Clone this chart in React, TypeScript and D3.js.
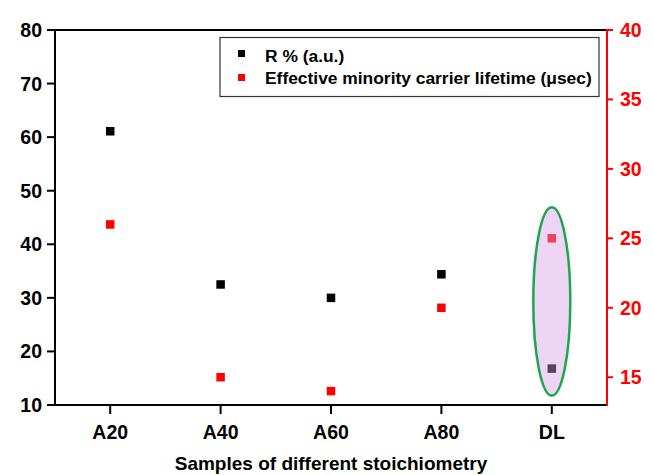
import React from "react";
import * as d3 from "d3";

const categories = ["A20", "A40", "A60", "A80", "DL"];
const reflectance = [61.1, 32.5, 30.0, 34.4, 16.8];
const lifetime = [26.0, 15.0, 14.0, 20.0, 25.0];
const leftTicks = [10, 20, 30, 40, 50, 60, 70, 80];
const rightTicks = [15, 20, 25, 30, 35, 40];
const seriesNames = ["R % (a.u.)", "Effective minority carrier lifetime (\u03bcsec)"];
const xTitle = "Samples of different stoichiometry";
const highlightCategory = "DL";

const W = 653;
const H = 475;
const M = { left: 55, right: 607, top: 30, bottom: 405 };
const FONT = "'Liberation Sans', Arial, sans-serif";
const RED = "#ff0000";

export default function App() {
  const x = d3.scaleLinear().domain([0.5, 5.5]).range([M.left, M.right]);
  const yL = d3.scaleLinear().domain([10, 80]).range([M.bottom, M.top]);
  const yR = d3.scaleLinear().domain([13, 40]).range([M.bottom, M.top]);
  const xi = (i: number) => x(i + 1);
  const ms = 8.5;
  const hi = categories.indexOf(highlightCategory);
  const ecx = xi(hi);
  const eTop = yR(lifetime[hi]) - 31;
  const eBot = yL(reflectance[hi]) + 27;

  return (
    <svg width={W} height={H} style={{ position: "absolute", left: 0, top: 0, background: "#fff" }} fontFamily={FONT} fontWeight="bold">
      <rect x={0} y={0} width={W} height={H} fill="#fff" />
      {/* points */}
      {reflectance.map((v, i) => (
        <rect key={"b" + i} x={xi(i) - ms / 2} y={yL(v) - ms / 2} width={ms} height={ms} fill="#000" />
      ))}
      {lifetime.map((v, i) => (
        <rect key={"r" + i} x={xi(i) - ms / 2} y={yR(v) - ms / 2} width={ms} height={ms} fill={RED} />
      ))}
      {/* highlight ellipse */}
      <ellipse cx={ecx} cy={(eTop + eBot) / 2} rx={18.5} ry={(eBot - eTop) / 2} fill="rgb(216,154,231)" fillOpacity={0.42} stroke="#1ea64e" strokeWidth={2.5} />
      {/* frame */}
      <line x1={M.left} x2={M.right} y1={M.top} y2={M.top} stroke="#000" strokeWidth={2} />
      <line x1={M.left} x2={M.right} y1={M.bottom} y2={M.bottom} stroke="#000" strokeWidth={2} />
      <line x1={M.left} x2={M.left} y1={M.top - 1} y2={M.bottom + 1} stroke="#000" strokeWidth={2} />
      <line x1={M.right} x2={M.right} y1={M.top - 1} y2={M.bottom + 1} stroke={RED} strokeWidth={2} />
      {/* left axis */}
      {leftTicks.map((t) => (
        <g key={"lt" + t}>
          <line x1={M.left - 8} x2={M.left} y1={yL(t)} y2={yL(t)} stroke="#000" strokeWidth={2} />
          <text x={42} y={yL(t)} dy="0.36em" textAnchor="end" fontSize={19.5} fill="#000">{t}</text>
        </g>
      ))}
      {/* right axis */}
      {rightTicks.map((t) => (
        <g key={"rt" + t}>
          <line x1={M.right} x2={M.right + 6} y1={yR(t)} y2={yR(t)} stroke={RED} strokeWidth={2} />
          <text x={620} y={yR(t)} dy="0.36em" textAnchor="start" fontSize={19.5} fill={RED}>{t}</text>
        </g>
      ))}
      {/* x axis */}
      {categories.map((c, i) => (
        <g key={"xt" + c}>
          <line x1={xi(i)} x2={xi(i)} y1={M.bottom} y2={M.bottom + 9} stroke="#000" strokeWidth={2} />
          <text x={xi(i)} y={439} textAnchor="middle" fontSize={19.5} fill="#000">{c}</text>
        </g>
      ))}
      <text x={(M.left + M.right) / 2} y={470} textAnchor="middle" fontSize={19} fill="#000">{xTitle}</text>
      {/* legend */}
      <rect x={220} y={37.5} width={379} height={59} fill="#fff" stroke="#333" strokeWidth={1.2} />
      <rect x={238} y={50} width={7} height={7} fill="#000" />
      <text x={265} y={62} fontSize={17.4} fill="#000">{seriesNames[0]}</text>
      <rect x={238} y={74} width={7} height={7} fill={RED} />
      <text x={265} y={84} fontSize={17.4} fill="#000">{seriesNames[1]}</text>
    </svg>
  );
}
